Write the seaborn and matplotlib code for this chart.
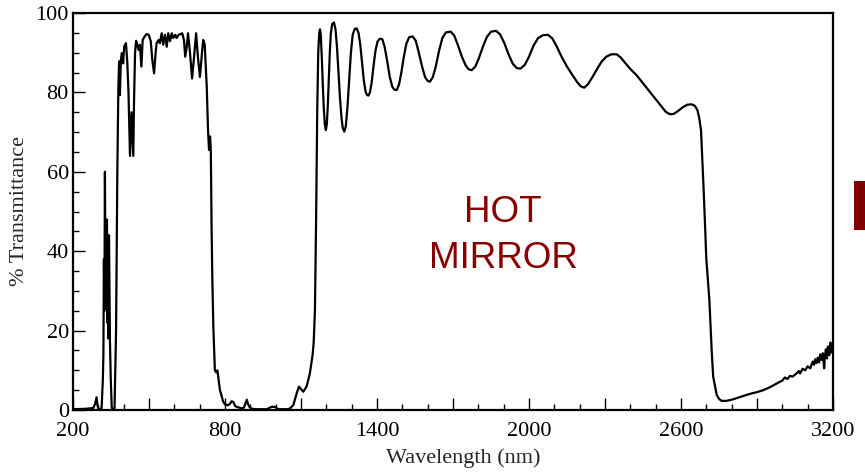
import matplotlib
matplotlib.use("Agg")
import matplotlib.pyplot as plt
from matplotlib.ticker import FixedLocator, MultipleLocator, FuncFormatter
from matplotlib.patches import Rectangle
import seaborn as sns
import pandas as pd

# Wavelength (nm) and % transmittance
wavelength = [
    200, 250, 280, 287, 293, 297, 300, 306, 313, 318, 320, 322, 324, 326, 328, 330,
    332, 334, 336, 338, 340, 342, 344, 346, 349, 353, 358, 364, 370, 375, 379, 382,
    385, 389, 393, 398, 402, 409, 414, 419, 425, 431, 438, 441, 445, 449, 454, 459,
    464, 470, 475, 483, 491, 499, 507, 513, 520, 526, 530, 538, 543, 550, 556, 563,
    570, 576, 583, 590, 596, 604, 609, 617, 625, 631, 638, 643, 649, 654, 662, 670,
    678, 686, 693, 701, 709, 714, 720, 728, 733, 737, 741, 744, 747, 750, 754, 760,
    765, 770, 774, 780, 787, 792, 800, 812, 820, 826, 833, 840, 846, 866, 875, 880,
    886, 891, 896, 906, 925, 965, 984, 997, 1010, 1050, 1060, 1070, 1083, 1092, 1100,
    1109, 1122, 1135, 1146, 1150, 1155, 1160, 1164, 1168, 1172, 1175, 1178, 1182,
    1186, 1190, 1194, 1198, 1202, 1206, 1210, 1214, 1218, 1223, 1230, 1236, 1242,
    1248, 1254, 1260, 1265, 1271, 1277, 1283, 1290, 1297, 1304, 1312, 1320, 1327,
    1334, 1341, 1348, 1355, 1360, 1366, 1372, 1379, 1386, 1394, 1402, 1411, 1421,
    1430, 1440, 1450, 1460, 1468, 1478, 1487, 1496, 1506, 1516, 1527, 1541, 1553,
    1565, 1578, 1590, 1600, 1609, 1620, 1632, 1645, 1658, 1672, 1691, 1705, 1720,
    1735, 1750, 1762, 1774, 1788, 1802, 1818, 1834, 1850, 1870, 1886, 1902, 1920,
    1936, 1952, 1967, 1984, 2000, 2018, 2036, 2055, 2075, 2092, 2110, 2130, 2150,
    2170, 2190, 2205, 2218, 2232, 2250, 2268, 2286, 2305, 2325, 2346, 2362, 2380,
    2400, 2425, 2450, 2475, 2500, 2525, 2540, 2556, 2572, 2590, 2608, 2625, 2642,
    2655, 2665, 2672, 2679, 2685, 2691, 2700, 2712, 2721, 2727, 2741, 2750, 2760,
    2780, 2806, 2830, 2859, 2880, 2900, 2925, 2950, 2970, 2990, 3000, 3010, 3020,
    3030, 3040, 3056, 3065, 3070, 3080, 3090, 3100, 3110, 3120, 3125, 3130, 3135,
    3140, 3145, 3150, 3155, 3160, 3165, 3168, 3172, 3176, 3180, 3185, 3190, 3194,
    3197, 3200,
]
transmittance = [
    0.2, 0.3, 0.5, 1.5, 3.2, 1.0, 0.4, 0.2, 0.5, 8, 14, 38, 25, 60, 35, 45,
    28, 48, 22, 44, 18, 44, 30, 17, 8, 0.5, 0.2, 0.5, 20, 60, 81, 87.8,
    79.3, 88.2, 89.9, 87.3, 91.5, 92.4, 88, 80, 64, 75, 64, 78, 90, 93, 92, 90.7,
    92, 86.5, 93.2, 94.1, 94.7, 94.5, 92.9, 88.2, 84.8, 89.9, 92.4, 93.2, 92.4, 94.9, 92, 94.5,
    91.5, 94.9, 92.9, 94.9, 93.7, 94.5, 93.7, 94.5, 94.7, 94.9, 93.2, 89, 91.5, 94.9, 89.9, 83.5,
    89, 94.9, 89, 83.9, 89.9, 93.2, 92, 81.4, 70.5, 65.5, 68.9, 65.5, 46.2, 33, 21, 10,
    9.5, 10, 8, 5, 3.5, 2.2, 1.4, 1.2, 1.6, 2.2, 2.0, 1.0, 0.8, 0.4, 0.6, 1.5,
    2.6, 1.5, 0.8, 0.3, 0.2, 0.2, 0.8, 0.8, 0.2, 0.2, 0.6, 1.3, 4.2, 5.9, 5.3,
    4.6, 5.9, 9.2, 14, 17, 25, 50, 75, 90, 95, 95.9, 94.5, 89,
    82, 76, 72, 70.5, 72, 77, 84, 90.5, 95, 97.2, 97.6, 96, 91.5,
    85, 78.5, 73.5, 71, 70.1, 71.5, 76, 83, 90, 94.5, 96, 96.1, 95,
    92, 87.5, 83, 80.2, 79.4, 79.2, 80, 82.5, 86.5, 90.5, 92.8, 93.5, 93.4,
    91.5, 88, 84, 81.5, 80.7, 80.6, 82, 85, 89, 92.3, 93.9, 94.1, 93,
    90, 86.5, 83.8, 82.9, 82.7, 83.8, 86.5, 90.5, 93.7, 95.1, 95.3, 94.3, 91.8,
    89, 86.8, 85.8, 85.6, 86.5, 88.6, 91.5, 94, 95.3, 95.5, 94.6, 92.5, 89.5,
    87.2, 86.1, 86, 87, 89, 91.8, 93.7, 94.4, 94.5, 93.6, 91.5, 88.8, 86.5,
    84.5, 82.6, 81.5, 81.2, 82, 83.8, 85.8, 87.7, 89, 89.6, 89.6, 88.8, 87.4,
    85.9, 84.3, 82.3, 80.3, 78.3, 76.3, 75.1, 74.5, 74.6, 75.4, 76.3, 76.9, 77,
    76.6, 75.5, 73.5, 70.5, 62, 53, 38, 27.7, 15.1, 8.4, 3.8, 2.8, 2.3,
    2.3, 2.7, 3.2, 3.8, 4.2, 4.5, 5.0, 5.7, 6.4, 7.1, 7.4, 8.2, 7.8,
    8.6, 8.4, 9.2, 9.8, 9.2, 10.4, 10.0, 11.0, 10.5, 12.2, 11.4, 12.8, 11.8,
    13.2, 12.0, 14.0, 12.6, 14.3, 10.5, 13.5, 15.3, 13.0, 16.0, 13.8, 17.0, 14.5,
    16.5, 15.9,
]

df = pd.DataFrame({"Wavelength": wavelength, "Transmittance": transmittance})

sns.set_theme(style="ticks")
plt.rcParams["font.family"] = ["Liberation Serif", "DejaVu Serif"]

fig = plt.figure(figsize=(8.65, 4.72), dpi=100)
ax = fig.add_axes([73 / 865, 1 - 410 / 472, 760 / 865, 397 / 472])

sns.lineplot(data=df, x="Wavelength", y="Transmittance", ax=ax,
             color="black", linewidth=1.6, estimator=None, sort=False)

ax.set_xlim(200, 3200)
ax.set_ylim(0, 100)

ax.xaxis.set_major_locator(FixedLocator(list(range(200, 3201, 300))))
ax.xaxis.set_major_formatter(FuncFormatter(lambda v, p: f"{int(round(v))}" if (round(v) - 200) % 600 == 0 else ""))
ax.xaxis.set_minor_locator(MultipleLocator(100))
ax.yaxis.set_major_locator(MultipleLocator(20))
ax.yaxis.set_minor_locator(MultipleLocator(5))

ax.tick_params(axis="both", which="major", direction="in", length=8.5, width=1.0,
               labelsize=16, color="black", labelcolor="black")
ax.tick_params(axis="both", which="minor", direction="in", length=4.5, width=1.0, color="black")
ax.tick_params(axis="x", which="major", pad=9)
ax.tick_params(axis="y", which="major", pad=3)
ax.tick_params(top=False, right=False, which="both")

for s in ax.spines.values():
    s.set_linewidth(1.6)
    s.set_color("black")

ax.set_xlabel("Wavelength (nm)", fontsize=16, labelpad=0)
ax.set_ylabel("% Transmittance", fontsize=16, labelpad=4)
ax.xaxis.set_label_coords((463 - 73) / 760, -(458 - 410) / 397)
ax.yaxis.set_label_coords(-(73 - 20) / 760, 0.5)
ax.xaxis.label.set_verticalalignment("center")
ax.yaxis.label.set_verticalalignment("center")

fig.text(503 / 865, 1 - 213 / 472, "HOT", fontsize=26.5, color="#870000",
         family=["Liberation Sans", "DejaVu Sans"], ha="center", va="center")
fig.text(503 / 865, 1 - 258 / 472, "MIRROR", fontsize=26.5, color="#870000",
         family=["Liberation Sans", "DejaVu Sans"], ha="center", va="center")

fig.patches.append(Rectangle((854 / 865, 1 - 230 / 472), 11 / 865, 49 / 472,
                             transform=fig.transFigure, facecolor="#800000",
                             edgecolor="none"))

fig.savefig("out.png", dpi=100)
